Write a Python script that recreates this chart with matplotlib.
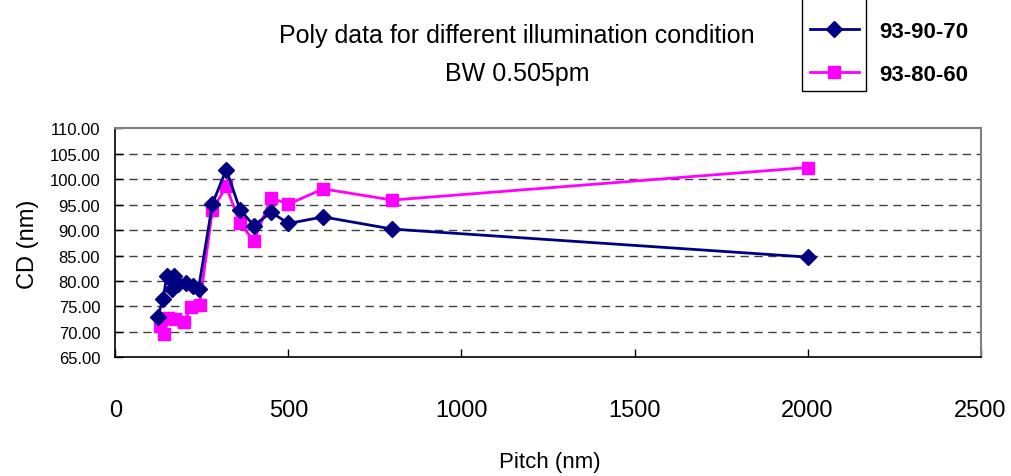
import numpy as np
import matplotlib
matplotlib.use('Agg')
import matplotlib.pyplot as plt
from matplotlib.patches import Rectangle

plt.rcParams['font.family'] = ['Liberation Sans', 'DejaVu Sans']

# pitch (nm) and measured CD (nm) for each illumination setting
pitch_a = [122, 138, 148, 163, 169, 182, 204, 223, 240, 280, 320, 360, 400, 450, 500, 600, 800, 2000]
cd_a = [73.0, 76.5, 81.0, 78.4, 81.0, 79.4, 79.6, 79.0, 78.5, 95.1, 101.9, 94.0, 90.9, 93.5, 91.3, 92.6, 90.2, 84.7]

pitch_b = [129, 141, 153, 172, 198, 218, 243, 280, 320, 360, 400, 450, 500, 600, 800, 2000]
cd_b = [71.2, 69.5, 72.7, 72.5, 72.0, 74.8, 75.3, 93.9, 98.6, 91.3, 87.9, 96.3, 95.1, 98.1, 95.9, 102.3]

label_a = '93-90-70'
label_b = '93-80-60'

yticks = np.arange(65, 110.1, 5)
xticks = [0, 500, 1000, 1500, 2000, 2500]

fig = plt.figure(figsize=(10.12, 4.77), dpi=100)
ax = fig.add_axes([0.1141, 0.2488, 0.8548, 0.4801])

for y in yticks[1:-1]:
    ax.axhline(y, color='#404040', lw=1.0, ls=(0, (6, 4)), zorder=1)

ax.plot(pitch_a, cd_a, color='#000080', lw=2.0, marker='D', ms=8,
        label=label_a, zorder=3)
ax.plot(pitch_b, cd_b, color='#ff00ff', lw=2.0, marker='s', ms=9,
        label=label_b, zorder=2)

ax.set_xlim(0, 2500)
ax.set_ylim(65, 110)
ax.set_xticks(xticks)
ax.set_yticks(yticks)
ax.set_yticklabels([f'{v:.2f}' for v in yticks])
ax.tick_params(axis='x', direction='in', length=6, width=1, labelsize=17, pad=30)
ax.tick_params(axis='y', direction='in', length=6, width=1, labelsize=12, pad=11)

for side in ['left', 'bottom']:
    ax.spines[side].set_color('black')
    ax.spines[side].set_linewidth(1.2)
for side in ['top', 'right']:
    ax.spines[side].set_color('#808080')
    ax.spines[side].set_linewidth(1.5)

ax.set_xlabel('Pitch (nm)', fontsize=16)
ax.xaxis.set_label_coords(0.502, -0.41)
ax.set_ylabel('CD (nm)', fontsize=17, va='center')
ax.yaxis.set_label_coords(-0.101, 0.5)

fig.text(0.511, 1 - 36 / 477, 'Poly data for different illumination condition',
         ha='center', va='center', fontsize=18)
fig.text(0.511, 1 - 74 / 477, 'BW 0.505pm', ha='center', va='center', fontsize=18)

# legend entries without frame; the box only wraps the line samples
leg = fig.legend(loc='upper left', bbox_to_anchor=(810 / 1012, 1 - 22 / 477),
                 frameon=False, prop={'weight': 'bold', 'size': 16},
                 handlelength=2.2, handletextpad=0.9, labelspacing=1.0,
                 borderpad=0, borderaxespad=0)
fig.patches.append(Rectangle((802 / 1012, 1 - 92 / 477), 64 / 1012, 95 / 477,
                             transform=fig.transFigure, fill=False,
                             edgecolor='black', lw=1.0))

fig.savefig('out.png', dpi=100)
